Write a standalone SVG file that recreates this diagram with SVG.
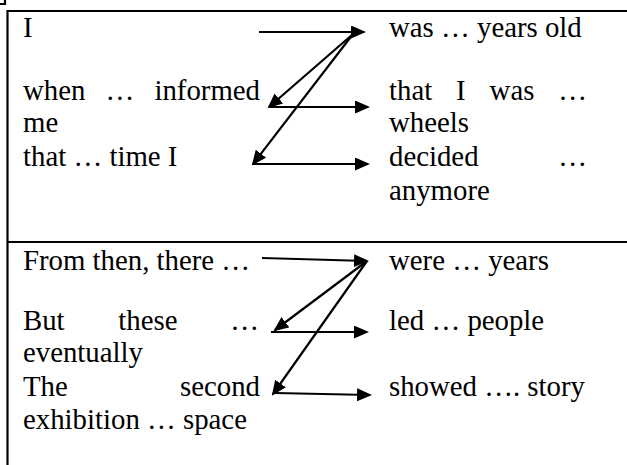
<svg xmlns="http://www.w3.org/2000/svg" width="627" height="465" viewBox="0 0 627 465">
<style>
.t text{font-size:28.8px;fill:#000}
.rule{stroke:#000;stroke-width:2.2;fill:none}
.conn{stroke:#000;stroke-width:2.2;fill:none;marker-end:url(#ah)}
</style>
<defs>
<marker id="ah" markerUnits="userSpaceOnUse" markerWidth="16" markerHeight="14" refX="13" refY="6.5" orient="auto">
<path d="M0,0 L15,6.5 L0,13 z" fill="#000"/>
</marker>
</defs>
<rect width="627" height="465" fill="#fff"/>
<g id="table">
<path class="rule" d="M0,4 H5 V0" stroke-width="1.6"/>
<path class="rule" d="M7.5,465 V11 H627"/>
<path class="rule" d="M7.5,242 H627"/>
</g>
<g class="t" font-family="'Liberation Serif', 'Times New Roman', serif">
<g id="n-i"><text x="23" y="37">I</text></g>
<g id="n-when"><text y="100"><tspan x="23">when</tspan><tspan x="105.5">…</tspan><tspan x="260" text-anchor="end">informed</tspan></text><text x="23" y="132">me</text></g>
<g id="n-that-time"><text x="23" y="166">that … time I</text></g>
<g id="n-was"><text x="389" y="37">was … years old</text></g>
<g id="n-that-i"><text y="100"><tspan x="389">that</tspan><tspan x="456.1">I</tspan><tspan x="489.6">was</tspan><tspan x="587" text-anchor="end">…</tspan></text><text x="389" y="132">wheels</text></g>
<g id="n-decided"><text y="166"><tspan x="389">decided</tspan><tspan x="587" text-anchor="end">…</tspan></text><text x="389" y="200">anymore</text></g>
<g id="n-from"><text x="23" y="270">From then, there …</text></g>
<g id="n-but"><text y="330"><tspan x="23">But</tspan><tspan x="118.3">these</tspan><tspan x="259" text-anchor="end">…</tspan></text><text x="23" y="362">eventually</text></g>
<g id="n-second"><text y="396"><tspan x="23">The</tspan><tspan x="260" text-anchor="end">second</tspan></text><text x="23" y="429">exhibition … space</text></g>
<g id="n-were"><text x="389" y="270">were … years</text></g>
<g id="n-led"><text x="389" y="330">led … people</text></g>
<g id="n-showed"><text x="389" y="396">showed …. story</text></g>
</g>
<g id="connectors">
<path class="conn" d="M259,32 L364,32"/>
<path class="conn" d="M353,34 L269,107"/>
<path class="conn" d="M353,34 L253,164"/>
<path class="conn" d="M270,107 L368,107"/>
<path class="conn" d="M253,164 L368,164"/>
<path class="conn" d="M262,258 L367,261"/>
<path class="conn" d="M367,261 L275,330"/>
<path class="conn" d="M367,261 L273,394"/>
<path class="conn" d="M271,332 L367,332"/>
<path class="conn" d="M275,393 L370,395"/>
</g>
</svg>
